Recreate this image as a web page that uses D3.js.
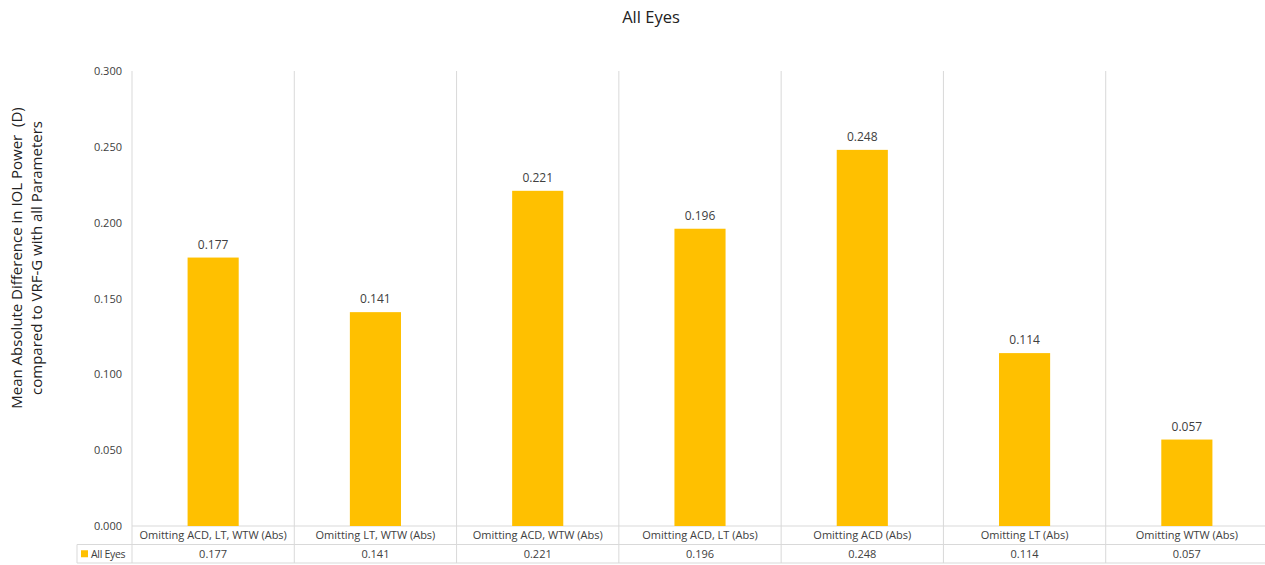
<!DOCTYPE html>
<html>
<head>
<meta charset="utf-8">
<script src="https://cdn.jsdelivr.net/npm/d3@7"></script>
<style>
  body { margin: 0; background: #fff; }
  svg { font-family: "Open Sans", "Noto Sans", sans-serif; }
</style>
</head>
<body>
<div id="chart"></div>
<script>
// chart data
const categories = [
    "Omitting ACD, LT, WTW (Abs)",
    "Omitting LT, WTW (Abs)",
    "Omitting ACD, WTW (Abs)",
    "Omitting ACD, LT (Abs)",
    "Omitting ACD (Abs)",
    "Omitting LT (Abs)",
    "Omitting WTW (Abs)"
];
const seriesName = "All Eyes";
const values = [0.177, 0.141, 0.221, 0.196, 0.248, 0.114, 0.057];
const yTicks = [0, 0.05, 0.1, 0.15, 0.2, 0.25, 0.3];

const width = 1265, height = 565;
const margin = {top: 71, left: 132, right: 1268, bottom: 526};
const rowH = 18.5;
const legendLeft = 77;
const gridColor = "#d9d9d9";
const textColor = "#404040";

const svg = d3.select("#chart").append("svg")
    .attr("width", width)
    .attr("height", height);

// title
svg.append("text")
    .attr("x", 651)
    .attr("y", 23)
    .attr("text-anchor", "middle")
    .style("font-size", "16.5px")
    .style("fill", "#222")
    .text("All Eyes");

const x = d3.scaleBand()
    .domain(categories)
    .range([margin.left, margin.right])
    .paddingInner(0)
    .paddingOuter(0);

const y = d3.scaleLinear()
    .domain([0, 0.3])
    .range([margin.bottom, margin.top]);

// vertical grid lines between categories, running down through the table
const tableBottom = margin.bottom + 2 * rowH;
const edges = categories.map(c => x(c)).concat([margin.right]);
svg.append("g")
    .selectAll("line")
    .data(edges)
    .enter().append("line")
    .attr("x1", d => d).attr("x2", d => d)
    .attr("y1", margin.top)
    .attr("y2", tableBottom)
    .attr("stroke", gridColor)
    .attr("stroke-width", 1);

// table horizontal lines
svg.append("line")
    .attr("x1", margin.left).attr("x2", margin.right)
    .attr("y1", margin.bottom).attr("y2", margin.bottom)
    .attr("stroke", gridColor);
[margin.bottom + rowH, tableBottom].forEach(yy => {
    svg.append("line")
        .attr("x1", legendLeft).attr("x2", margin.right)
        .attr("y1", yy).attr("y2", yy)
        .attr("stroke", gridColor);
});
svg.append("line")
    .attr("x1", legendLeft).attr("x2", legendLeft)
    .attr("y1", margin.bottom + rowH).attr("y2", tableBottom)
    .attr("stroke", gridColor);

// y axis (labels only)
const yAxis = d3.axisLeft(y)
    .tickValues(yTicks)
    .tickFormat(d3.format(".3f"))
    .tickSize(0)
    .tickPadding(10);

svg.append("g")
    .attr("transform", `translate(${margin.left},0)`)
    .call(yAxis)
    .call(g => g.select(".domain").remove())
    .call(g => g.selectAll("text")
        .style("font-size", "11px")
        .style("fill", textColor)
        .style("font-family", "'Open Sans', 'Noto Sans', sans-serif"));

// y axis title
const yTitle = svg.append("text")
    .attr("transform", "translate(0,258) rotate(-90)")
    .attr("text-anchor", "middle")
    .style("font-size", "15px")
    .style("white-space", "pre")
    .style("fill", "#222");
yTitle.append("tspan").attr("x", 0).attr("y", 22).text("Mean Absolute Difference in IOL Power  (D)");
yTitle.append("tspan").attr("x", 0).attr("y", 42).text("compared to VRF-G with all Parameters");

// bars
const barW = x.bandwidth() * 0.315;
svg.append("g")
    .selectAll("rect")
    .data(values)
    .enter().append("rect")
    .attr("x", (d, i) => x(categories[i]) + (x.bandwidth() - barW) / 2)
    .attr("y", d => y(d))
    .attr("width", barW)
    .attr("height", d => y(0) - y(d))
    .attr("fill", "#FFC000");

// value labels
svg.append("g")
    .selectAll("text")
    .data(values)
    .enter().append("text")
    .attr("x", (d, i) => x(categories[i]) + x.bandwidth() / 2)
    .attr("y", d => y(d) - 9)
    .attr("text-anchor", "middle")
    .style("font-size", "12px")
    .style("fill", textColor)
    .text(d => d3.format(".3f")(d));

// category row of the data table
svg.append("g")
    .selectAll("text")
    .data(categories)
    .enter().append("text")
    .attr("x", d => x(d) + x.bandwidth() / 2)
    .attr("y", margin.bottom + rowH / 2 + 4)
    .attr("text-anchor", "middle")
    .style("font-size", "11px")
    .style("fill", textColor)
    .text(d => d);

// value row of the data table
svg.append("g")
    .selectAll("text")
    .data(values)
    .enter().append("text")
    .attr("x", (d, i) => x(categories[i]) + x.bandwidth() / 2)
    .attr("y", margin.bottom + rowH * 1.5 + 4)
    .attr("text-anchor", "middle")
    .style("font-size", "11px")
    .style("fill", textColor)
    .text(d => d3.format(".3f")(d));

// legend key in the table
svg.append("rect")
    .attr("x", legendLeft + 4)
    .attr("y", margin.bottom + rowH * 1.5 - 3.5)
    .attr("width", 7)
    .attr("height", 7)
    .attr("fill", "#FFC000");
svg.append("text")
    .attr("x", legendLeft + 14)
    .attr("y", margin.bottom + rowH * 1.5 + 4)
    .style("font-size", "10.5px")
    .style("letter-spacing", "-0.3px")
    .style("fill", textColor)
    .text(seriesName);
</script>
</body>
</html>
